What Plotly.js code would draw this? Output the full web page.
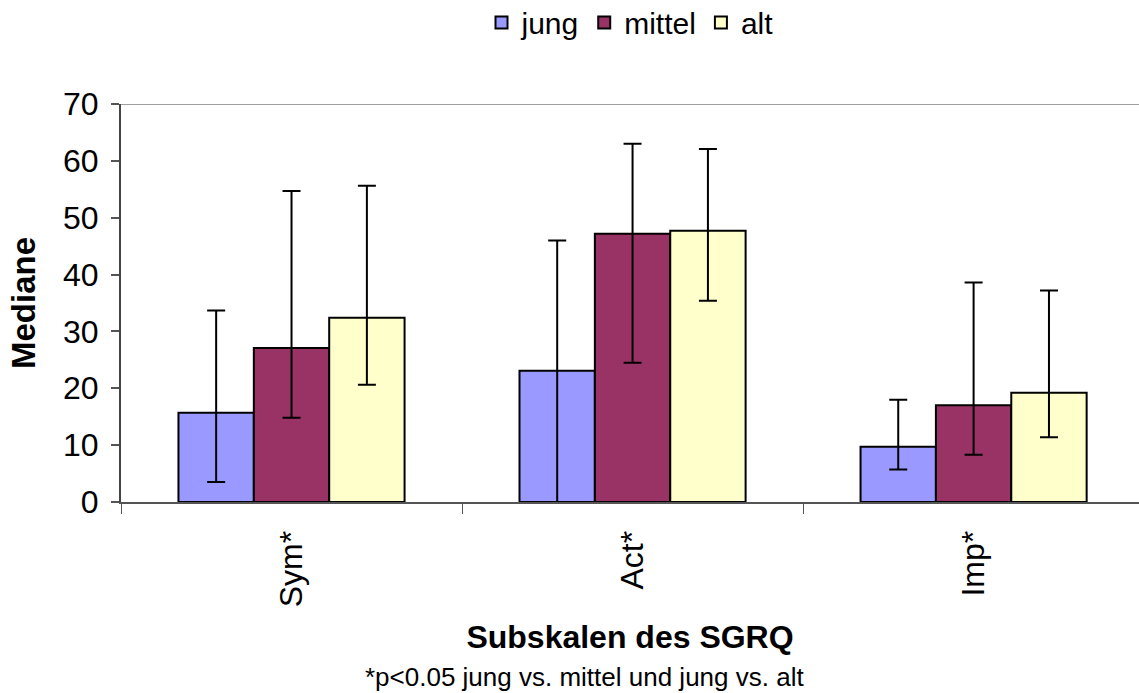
<!DOCTYPE html>
<html>
<head>
<meta charset="utf-8">
<script src="https://cdn.plot.ly/plotly-3.0.1.min.js"></script>
<style>
html,body{margin:0;padding:0;background:#fff;overflow:hidden;}
#chart{width:1139px;height:693px;}
</style>
</head>
<body>
<div id="chart"></div>
<script>
// Data
const categories = ["Sym*", "Act*", "Imp*"];
const seriesNames = ["jung", "mittel", "alt"];

const jungMedian = [15.7, 23.1, 9.7];
const jungLow    = [3.5, 0.0, 5.7];
const jungHigh   = [33.7, 46.0, 18.0];

const mittelMedian = [27.1, 47.2, 17.0];
const mittelLow    = [14.8, 24.5, 8.3];
const mittelHigh   = [54.7, 63.0, 38.6];

const altMedian = [32.4, 47.7, 19.2];
const altLow    = [20.6, 35.4, 11.4];
const altHigh   = [55.6, 62.1, 37.2];

const colors = ["#9999FF", "#993366", "#FFFFCC"];
const yTicks = [0, 10, 20, 30, 40, 50, 60, 70];

const FONT = "Arial, 'Liberation Sans', sans-serif";

function makeTrace(name, med, low, high, color) {
  return {
    type: "bar",
    name: name,
    x: categories,
    y: med,
    marker: {color: color, line: {color: "#000", width: 2}},
    error_y: {
      type: "data",
      symmetric: false,
      array: high.map((h, i) => h - med[i]),
      arrayminus: low.map((l, i) => med[i] - l),
      color: "#000",
      thickness: 2,
      width: 9
    },
    hoverinfo: "x+y+name"
  };
}

const data = [
  makeTrace(seriesNames[0], jungMedian, jungLow, jungHigh, colors[0]),
  makeTrace(seriesNames[1], mittelMedian, mittelLow, mittelHigh, colors[1]),
  makeTrace(seriesNames[2], altMedian, altLow, altHigh, colors[2])
];

const layout = {
  width: 1139,
  height: 693,
  margin: {l: 121, r: 0, t: 104, b: 191, autoexpand: false},
  paper_bgcolor: "#fff",
  plot_bgcolor: "#fff",
  font: {family: FONT, color: "#000", size: 30},
  barmode: "group",
  bargap: 0.337,
  bargroupgap: 0,
  showlegend: true,
  legend: {
    orientation: "h",
    x: 0.5, xanchor: "center",
    y: 1.205, yanchor: "middle",
    font: {family: FONT, size: 30, color: "#000"},
    itemwidth: 30,
    tracegroupgap: 0,
    bgcolor: "rgba(0,0,0,0)"
  },
  xaxis: {
    type: "category",
    range: [-0.5, 2.485],
    showline: true,
    linecolor: "#555",
    linewidth: 2,
    ticks: "outside",
    tickson: "boundaries",
    ticklen: 10,
    tickcolor: "#555",
    tickwidth: 1,
    tickangle: -90,
    ticklabelstandoff: 14,
    tickfont: {family: FONT, size: 32, color: "#000"},
    showgrid: false,
    zeroline: false,
    automargin: false,
    title: {
      text: "<b>Subskalen des SGRQ</b>",
      font: {family: FONT, size: 32, color: "#000"},
      standoff: 19
    }
  },
  yaxis: {
    range: [0, 70],
    tickvals: yTicks,
    ticktext: yTicks.map(String),
    showline: true,
    linecolor: "#444",
    linewidth: 2,
    ticks: "outside",
    ticklen: 8,
    tickcolor: "#555",
    tickwidth: 2,
    ticklabelstandoff: 6,
    tickfont: {family: FONT, size: 32, color: "#000"},
    showgrid: false,
    zeroline: false,
    automargin: false,
    title: {
      text: "<b>Mediane</b>",
      font: {family: FONT, size: 33, color: "#000"},
      standoff: 17
    }
  },
  shapes: [{
    type: "line", xref: "paper", yref: "y",
    x0: 0, x1: 1, y0: 70, y1: 70,
    line: {color: "#A0A0A0", width: 2},
    layer: "below"
  }],
  annotations: [{
    text: "*p<0.05 jung vs. mittel und jung vs. alt",
    xref: "paper", yref: "paper",
    x: 0.455, y: -0.44, xanchor: "center", yanchor: "middle",
    showarrow: false,
    font: {family: FONT, size: 26, color: "#000"}
  }]
};

Plotly.newPlot("chart", data, layout, {displayModeBar: false, staticPlot: true});
</script>
</body>
</html>
